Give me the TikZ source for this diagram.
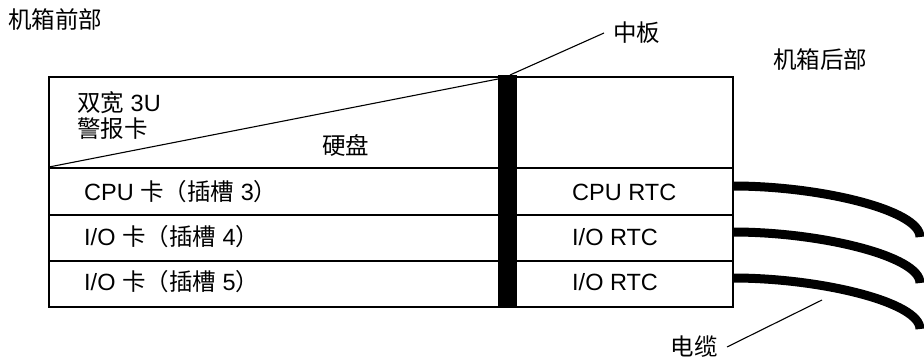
\documentclass[tikz,border=0pt]{standalone}
\usepackage{fontspec}
\setmainfont{Liberation Sans}
\newfontfamily\cjk{Noto Sans CJK SC}
\usetikzlibrary{positioning}
\newcommand{\zh}[1]{{\cjk #1}}

\begin{document}
\begin{tikzpicture}[x=1pt,y=-1pt,
		txt/.style={font=\fontsize{23.5}{26}\selectfont,inner sep=0pt,anchor=west},
		tag/.style={txt,inner xsep=9pt},
		frame/.style={draw,line width=2.8pt},
		thin line/.style={line width=1.1pt},
		cable/.style={line width=9pt}]
	\useasboundingbox (0,0) rectangle (924,358);
	
	% chassis and card rows
	\draw[frame] (49,77) rectangle (733,307);
	\draw[frame] (49,168) -- (733,168);
	\draw[frame] (49,215) -- (733,215);
	\draw[frame] (49,261) -- (733,261);
	\draw[thin line] (49,167) -- (498,79);
	\fill (498,75) rectangle (517,308);
	
	\node[txt] (front) at (8,20) {\zh{机箱前部}};
	\node[txt] (back) at (773,60) {\zh{机箱后部}};
	\node[txt,align=left] (alarm) at (77,115) {\zh{双宽} 3U\\\zh{警报卡}};
	\node[txt] (disk) at (322,145) {\zh{硬盘}};
	
	\node[txt] (cpucard) at (84,192) {CPU \zh{卡（插槽} 3\zh{）}};
	\node[txt] (iocardA) at (84,237) {I/O \zh{卡（插槽} 4\zh{）}};
	\node[txt] (iocardB) at (84,282) {I/O \zh{卡（插槽} 5\zh{）}};
	
	\node[txt] (cpurtc) at (572,192) {CPU RTC};
	\node[txt] (iortcA) at (572,237) {I/O RTC};
	\node[txt] (iortcB) at (572,282) {I/O RTC};
	
	% cables
	\coordinate (cpuport) at (733,186);
	\coordinate (ioportA) at (733,232);
	\coordinate (ioportB) at (733,278);
	\draw[cable] (cpuport) .. controls (820,186) and (920,210) .. (920,237);
	\draw[cable] (ioportA) .. controls (820,232) and (920,256) .. (920,283);
	\draw[cable] (ioportB) .. controls (820,278) and (920,302) .. (920,329);
	
	% leaders
	\node[tag] (midlabel) at (604,33) {\zh{中板}};
	\coordinate (midtip) at (510,75);
	\draw[thin line] (midtip) -- (midlabel.west);
	
	\node[tag,anchor=east] (cablelabel) at (727,347) {\zh{电缆}};
	\coordinate (cabletip) at (822,300);
	\draw[thin line] (cabletip) -- (cablelabel.east);
\end{tikzpicture}
\end{document}
